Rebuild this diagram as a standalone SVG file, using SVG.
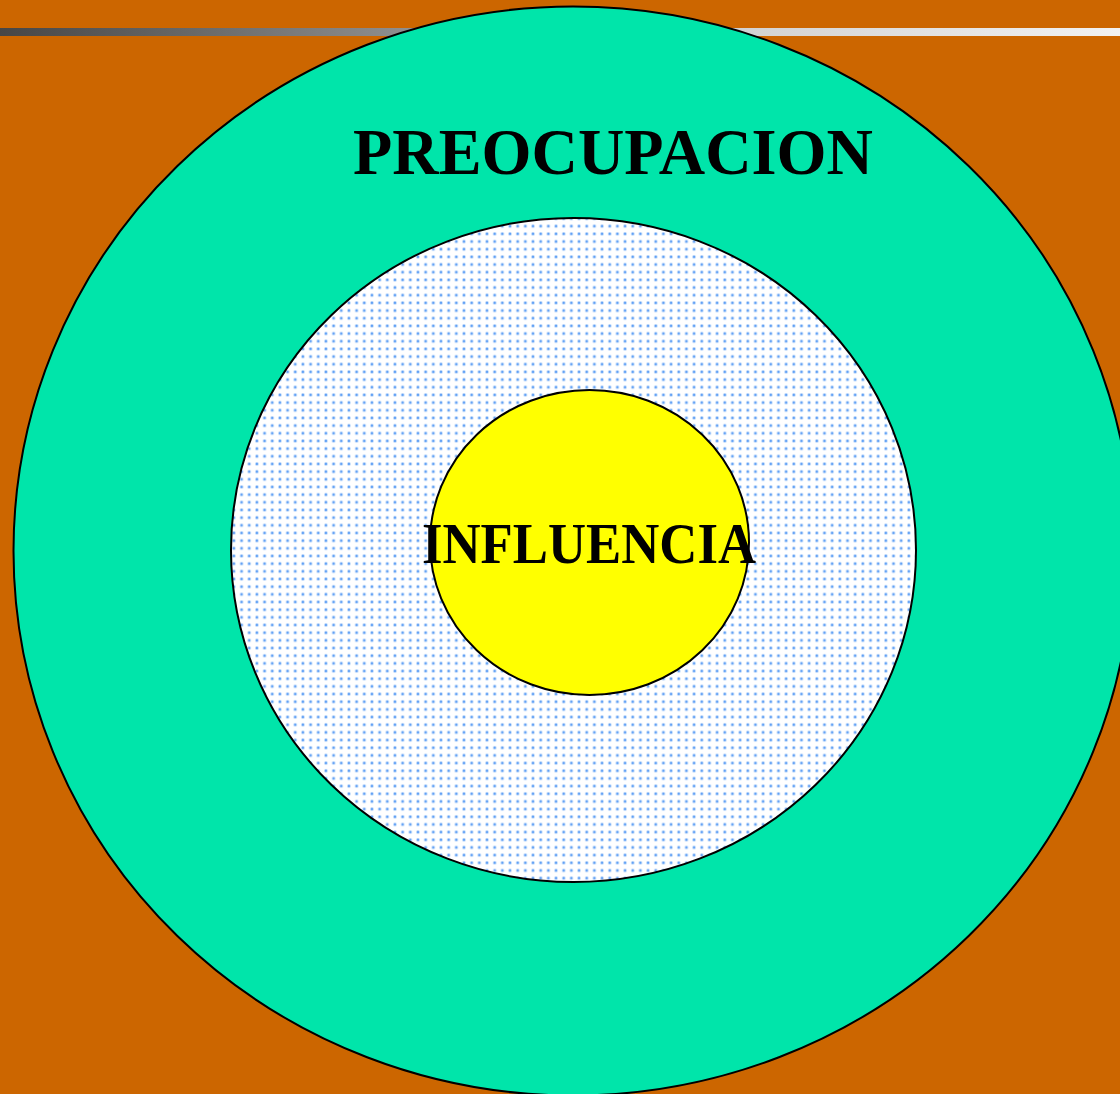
<svg xmlns="http://www.w3.org/2000/svg" width="1120" height="1094" viewBox="0 0 1120 1094">
  <style>
    .ring { stroke: #000; stroke-width: 2; }
    .label { font-family: "Liberation Serif", "Times New Roman", serif; font-weight: bold; fill: #000; }
  </style>
  <defs>
    <linearGradient id="bar" x1="0" y1="0" x2="1120" y2="0" gradientUnits="userSpaceOnUse">
      <stop offset="0" stop-color="#464646"/>
      <stop offset="0.36" stop-color="#8e8e8e"/>
      <stop offset="0.67" stop-color="#d3d3d3"/>
      <stop offset="1" stop-color="#f2f2f2"/>
    </linearGradient>
    <pattern id="dots" x="0" y="0" width="7.67" height="7.67" patternUnits="userSpaceOnUse">
      <rect width="7.67" height="7.67" fill="#ffffff"/>
      <circle cx="3.8" cy="3.8" r="1.8" fill="#b4d3fa"/>
      <circle cx="3.8" cy="3.8" r="1.1" fill="#5d9ef5"/>
    </pattern>
  </defs>
  <rect width="1120" height="1094" fill="#CC6600"/>
  <rect x="0" y="28" width="1120" height="8" fill="url(#bar)"/>
  <g id="preocupacion">
    <ellipse class="ring" cx="573" cy="551" rx="559.5" ry="544.5" fill="#00E5AA"/>
    <text class="label" x="353" y="174" font-size="65" textLength="520" lengthAdjust="spacingAndGlyphs">PREOCUPACION</text>
  </g>
  <g id="middle">
    <ellipse class="ring" cx="573.5" cy="550" rx="342.5" ry="332" fill="url(#dots)"/>
  </g>
  <g id="influencia">
    <ellipse class="ring" cx="589.5" cy="542.5" rx="159.5" ry="152.5" fill="#FFFF00"/>
    <text class="label" x="422" y="563" font-size="56" textLength="334" lengthAdjust="spacingAndGlyphs">INFLUENCIA</text>
  </g>
  <g id="connectors"/>
</svg>
